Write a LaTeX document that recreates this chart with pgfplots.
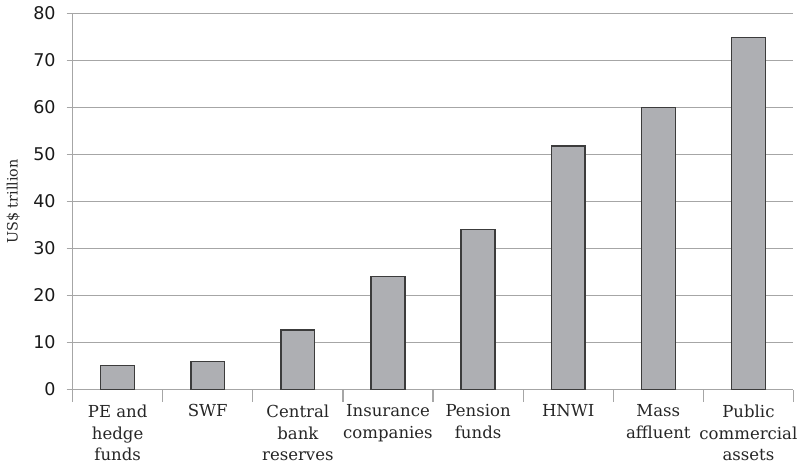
\documentclass[border=0pt]{standalone}
\usepackage{pgfplots}
\pgfplotsset{compat=1.18}
\usepackage{fontspec}
\setmainfont{DejaVu Serif}
\newfontfamily\tickfont{DejaVu Sans}
\definecolor{barfill}{HTML}{AEAFB3}
\definecolor{baredge}{HTML}{3C3C3C}
\definecolor{gridc}{HTML}{A6A6A6}
\begin{document}
\begin{tikzpicture}
\begin{axis}[
  scale only axis,
  width=362pt, height=189pt,
  xmin=-0.5, xmax=7.5,
  ymin=0, ymax=80,
  ytick={0,10,...,80},
  /pgf/number format/assume math mode=true,
  axis x line*=bottom,
  axis y line*=left,
  axis line style={gridc, line width=0.6pt},
  ymajorgrids,
  grid style={gridc, line width=0.6pt},
  xtick={0,...,7},
  xticklabels={PE and\\hedge\\funds, SWF, Central\\bank\\reserves, Insurance\\companies, Pension\\funds, HNWI, Mass\\affluent, Public\\commercial\\assets},
  xticklabel style={align=center, font=\fontsize{8.3}{11}\selectfont, text=black!85, yshift=-1pt},
  major x tick style={draw=none},
  minor xtick={-0.5,0.5,...,7.5},
  minor x tick style={gridc, line width=0.6pt},
  tick align=outside,
  minor tick length=6pt,
  major tick length=3pt,
  y tick style={gridc, line width=0.6pt},
  yticklabel style={font=\tickfont\fontsize{8.8}{10}\selectfont, text=black!90, xshift=-2pt},
  ylabel={US\$ trillion},
  ylabel style={font=\fontsize{7.2}{9}\selectfont, text=black!85},
  ylabel shift=0pt,
  clip=false,
]
\addplot[ybar, bar width=17pt, fill=barfill, draw=baredge, line width=0.7pt]
  coordinates {(0,5.1) (1,6.0) (2,12.7) (3,24.0) (4,34.0) (5,51.8) (6,60.0) (7,74.9)};
\end{axis}
\end{tikzpicture}
\end{document}
